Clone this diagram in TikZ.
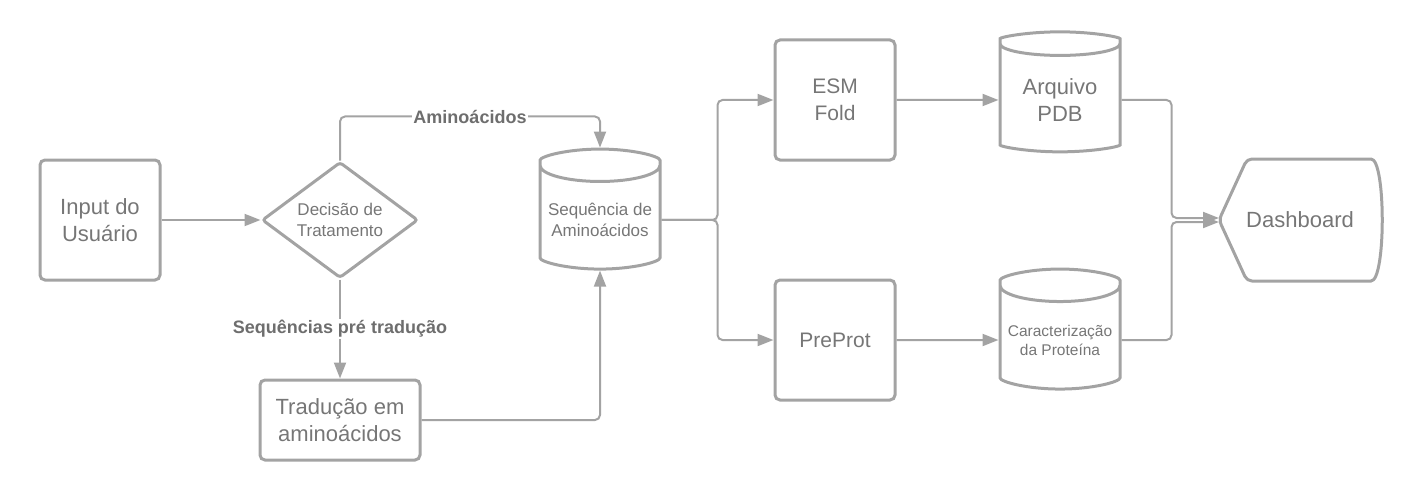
\documentclass[tikz,border=0pt]{standalone}
\usepackage{fontspec}
\setmainfont{Liberation Sans}
\usepackage{tikz}
\usetikzlibrary{shapes.geometric,arrows.meta}
\usepackage{xcolor}
\definecolor{trait}{RGB}{163,163,163}
\definecolor{texte}{RGB}{118,118,118}
\definecolor{etiq}{RGB}{110,110,110}

\begin{document}
\begin{tikzpicture}[x=1pt, y=-1pt, ->, >={Triangle[length=16pt,width=12pt]},
                    line width=2pt, color=trait, rounded corners=5pt]
\tikzstyle{base}=[draw=trait, line width=3pt, text=texte, align=center, inner sep=2pt]
\tikzstyle{boite}=[base, rectangle, minimum width=120pt, minimum height=120pt,
                   font=\fontsize{21}{27}\selectfont]
\tikzstyle{losange}=[base, diamond, aspect=1.34, minimum width=156pt,
                     minimum height=116pt, rounded corners=3pt,
                     font=\fontsize{17}{21}\selectfont]
% cylindre vertical pour les fichiers
\tikzstyle{cuve}=[base, cylinder, shape border rotate=90, aspect=0.3,
                  minimum width=120pt, minimum height=120pt,
                  font=\fontsize{17}{21}\selectfont]
\tikzstyle{ecran}=[text=texte, minimum width=160pt, minimum height=120pt,
                   font=\fontsize{22}{27}\selectfont]
\tikzstyle{etiquette}=[fill=white, text=etiq, inner sep=1pt, rounded corners=0pt,
                       font=\bfseries\fontsize{18}{21}\selectfont]

\useasboundingbox[-] (0,0) rectangle (1420,500);

\node[boite, font=\fontsize{22}{27}\selectfont] (input) at (100,220) {Input do\\Usuário};
\node[losange] (decision) at (340,220) {Decisão de\\Tratamento};
\node[boite, minimum width=160pt, minimum height=80pt,
      font=\fontsize{22}{27}\selectfont] (traduction) at (340,420) {Tradução em\\aminoácidos};
\node[cuve] (sequence) at (600,220) {Sequência de\\Aminoácidos};
\node[boite] (esm) at (835,100) {ESM\\Fold};
\node[boite] (preprot) at (835,340) {PreProt};
\node[cuve, font=\fontsize{22}{27}\selectfont] (pdb) at (1060,100) {Arquivo\\PDB};
\node[cuve, font=\fontsize{15.5}{19}\selectfont] (carac) at (1060,340) {Caracterização\\da Proteína};
\node[ecran] (dashboard) at (1300,220) {Dashboard};

\draw[-, line width=3pt] (dashboard.west) -- ([xshift=28pt]dashboard.north west)
    -- ([xshift=-15pt]dashboard.north east)
    .. controls ([xshift=5pt]dashboard.north east) and ([xshift=5pt]dashboard.south east)
    .. ([xshift=-15pt]dashboard.south east)
    -- ([xshift=28pt]dashboard.south west) -- cycle;

\draw (input.east) -- (decision.west);
\draw (decision.north) -- ++(0,-44) -| node[etiquette, pos=0.25] {Aminoácidos} (sequence.north);
\draw (decision.south) -- node[etiquette] {Sequências pré tradução} (traduction.north);
\draw (traduction.east) -| (sequence.south);
\draw (sequence.east) -- ++(56,0) |- (esm.west);
\draw (sequence.east) -- ++(56,0) |- (preprot.west);
\draw (esm.east) -- (pdb.west);
\draw (preprot.east) -- (carac.west);
\draw (pdb.east) -- ++(50,0) |- ([yshift=2pt]dashboard.west);
\draw (carac.east) -- ++(50,0) |- ([yshift=-2pt]dashboard.west);
\end{tikzpicture}
\end{document}
